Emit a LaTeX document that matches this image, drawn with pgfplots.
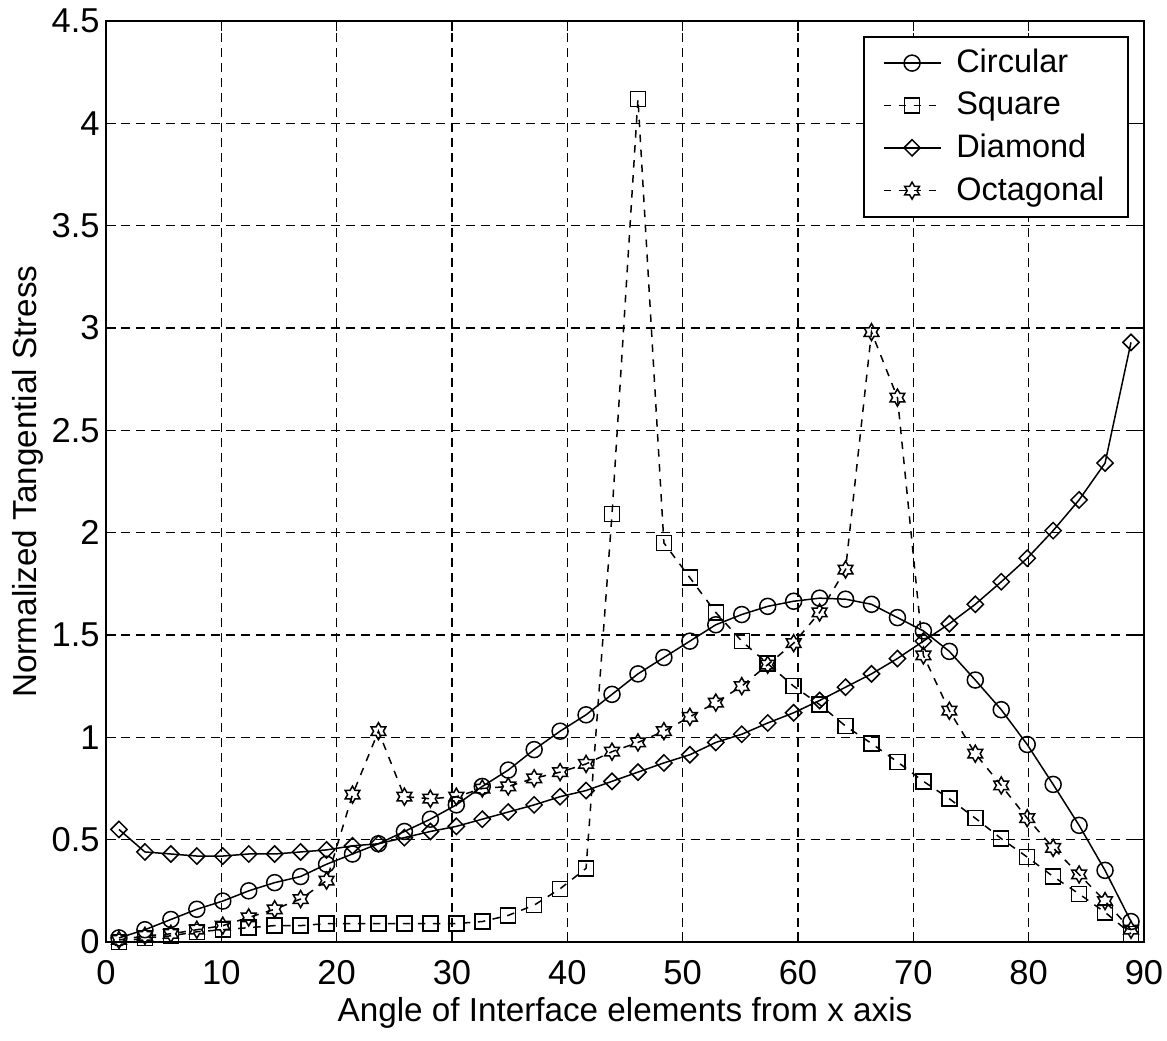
\documentclass[border=0pt]{standalone}
\usepackage{fontspec}
\setmainfont{Liberation Sans}
\usepackage{pgfplots}
\usepackage{pgfplotstable}
\pgfplotsset{compat=1.18}

\pgfdeclareplotmark{hexagram}{%
  \pgfpathmoveto{\pgfqpointpolar{90}{\pgfplotmarksize}}%
  \pgfpathlineto{\pgfqpointpolar{120}{0.577\pgfplotmarksize}}%
  \pgfpathlineto{\pgfqpointpolar{150}{\pgfplotmarksize}}%
  \pgfpathlineto{\pgfqpointpolar{180}{0.577\pgfplotmarksize}}%
  \pgfpathlineto{\pgfqpointpolar{210}{\pgfplotmarksize}}%
  \pgfpathlineto{\pgfqpointpolar{240}{0.577\pgfplotmarksize}}%
  \pgfpathlineto{\pgfqpointpolar{270}{\pgfplotmarksize}}%
  \pgfpathlineto{\pgfqpointpolar{300}{0.577\pgfplotmarksize}}%
  \pgfpathlineto{\pgfqpointpolar{330}{\pgfplotmarksize}}%
  \pgfpathlineto{\pgfqpointpolar{0}{0.577\pgfplotmarksize}}%
  \pgfpathlineto{\pgfqpointpolar{30}{\pgfplotmarksize}}%
  \pgfpathlineto{\pgfqpointpolar{60}{0.577\pgfplotmarksize}}%
  \pgfpathclose
  \pgfusepathqstroke
}

\pgfplotstableread{
x C S D O
1.125 0.02 0.00 0.55 0.01
3.375 0.06 0.02 0.44 0.03
5.625 0.11 0.03 0.43 0.04
7.875 0.16 0.05 0.42 0.06
10.125 0.20 0.06 0.42 0.08
12.375 0.25 0.07 0.43 0.12
14.625 0.29 0.08 0.43 0.16
16.875 0.32 0.08 0.44 0.21
19.125 0.38 0.09 0.45 0.30
21.375 0.43 0.09 0.47 0.72
23.625 0.48 0.09 0.48 1.03
25.875 0.54 0.09 0.51 0.71
28.125 0.60 0.09 0.54 0.70
30.375 0.67 0.09 0.565 0.71
32.625 0.76 0.10 0.60 0.75
34.875 0.84 0.13 0.635 0.76
37.125 0.94 0.18 0.67 0.80
39.375 1.03 0.26 0.71 0.83
41.625 1.11 0.36 0.74 0.87
43.875 1.21 2.09 0.785 0.93
46.125 1.31 4.12 0.83 0.975
48.375 1.39 1.95 0.875 1.03
50.625 1.47 1.78 0.915 1.10
52.875 1.55 1.61 0.975 1.17
55.125 1.60 1.47 1.015 1.25
57.375 1.64 1.36 1.07 1.355
59.625 1.665 1.25 1.12 1.46
61.875 1.68 1.16 1.18 1.61
64.125 1.675 1.055 1.245 1.82
66.375 1.65 0.97 1.31 2.98
68.625 1.585 0.88 1.385 2.66
70.875 1.52 0.785 1.47 1.40
73.125 1.42 0.70 1.555 1.13
75.375 1.28 0.605 1.65 0.92
77.625 1.135 0.505 1.76 0.765
79.875 0.965 0.415 1.875 0.605
82.125 0.77 0.32 2.01 0.46
84.375 0.57 0.235 2.16 0.33
86.625 0.35 0.145 2.34 0.20
88.875 0.10 0.04 2.93 0.06
}\datatable

\begin{document}
\begin{tikzpicture}[font=\fontsize{13}{15}\selectfont]
\begin{axis}[
  scale only axis, width=415.2pt, height=368.4pt,
  xmin=0, xmax=90, ymin=0, ymax=4.5,
  xtick={0,10,20,30,40,50,60,70,80,90},
  ytick={0,0.5,1,1.5,2,2.5,3,3.5,4,4.5},
  grid=major,
  major grid style={black, line width=0.5pt, dash pattern=on 3.6pt off 2.4pt},
  axis line style={black, line width=0.8pt},
  tick align=inside, tick style={black, line width=0.5pt}, major tick length=4pt,
  /pgf/number format/assume math mode=true,
  ticklabel style={font=\fontsize{13.8}{16}\selectfont},
  yticklabel style={xshift=1pt},
  xticklabel style={yshift=-4pt},
  xlabel={Angle of Interface elements from x axis},
  ylabel={Normalized Tangential Stress},
  label style={font=\fontsize{13.3}{16}\selectfont},
  xlabel style={at={(axis description cs:0.5,-0.0775)}, anchor=center},
  ylabel style={at={(axis description cs:-0.0751,0.5)}, anchor=center},
  legend style={at={(axis description cs:0.9855,0.9835)}, anchor=north east,
    draw=black, line width=0.6pt, font=\fontsize{13}{15}\selectfont,
    row sep=2.2pt, inner xsep=7.5pt, inner ysep=3pt},
  legend cell align=left,
  legend image code/.code={\draw[mark repeat=2, mark phase=2, #1] plot coordinates {(0cm,0cm) (0.4cm,0cm) (0.8cm,0cm)}; \path (0.8cm+4pt,0);},
]
\addplot[black, line width=0.6pt, mark=o, mark size=3.2pt, mark options={solid}] table[x=x,y=C] {\datatable};
\addplot[black, line width=0.6pt, dash pattern=on 3pt off 3pt, mark=square, mark size=3pt, mark options={solid}] table[x=x,y=S] {\datatable};
\addplot[black, line width=0.6pt, mark=square, mark size=2.3pt, mark options={solid, rotate=45}] table[x=x,y=D] {\datatable};
\addplot[black, line width=0.6pt, dash pattern=on 3pt off 3pt, mark=hexagram, mark size=3.4pt, mark options={solid}] table[x=x,y=O] {\datatable};
\legend{Circular,Square,Diamond,Octagonal}
\end{axis}
\pgfresetboundingbox
\path[use as bounding box] (-42.4pt,-39.2pt) rectangle (424.4pt,376.8pt);
\end{tikzpicture}
\end{document}
